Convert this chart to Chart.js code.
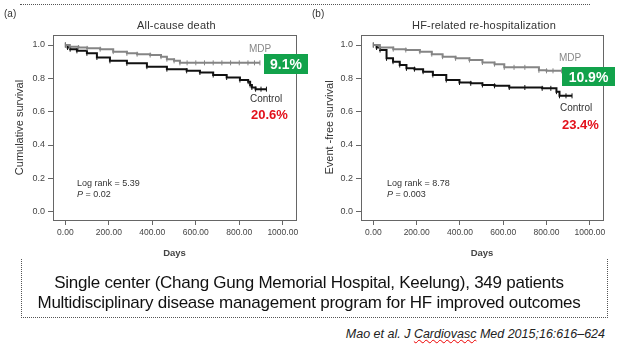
<!DOCTYPE html>
<html>
<head>
<meta charset="utf-8">
<script src="https://cdn.jsdelivr.net/npm/chart.js@4/dist/chart.umd.min.js"></script>
<style>
  html, body { margin: 0; padding: 0; background: #fff; }
  #wrap { position: relative; width: 618px; height: 348px; overflow: hidden; background: #fff;
          font-family: "Liberation Sans", Arial, sans-serif; }
  canvas { position: absolute; top: 0; }
  .t { position: absolute; white-space: nowrap; line-height: 1; }
  .green { position: absolute; background: #12a24b; color: #fff; font-weight: bold; font-size: 14px;
           display: flex; align-items: center; justify-content: center; }
  .red { color: #e3111b; font-weight: bold; font-size: 13px; }
  .panel { color: #333; font-size: 10px; }
  .title { color: #333; font-size: 11px; letter-spacing: 0.2px; }
  .grp { font-size: 10px; }
  .lr { color: #333; font-size: 9px; }
  #topline { position: absolute; left: 20px; top: 4px; width: 570px; border-top: 1px dotted #555; }
  #box { position: absolute; left: 21px; top: 259px; width: 585px; height: 58px;
         border-left: 1px dotted #555; border-right: 1px dotted #555; border-bottom: 1px dotted #555; }
  .big { position: absolute; left: 0; width: 618px; text-align: center; font-size: 17px; color: #111;
         letter-spacing: -0.25px; line-height: 1; }
  #cite { position: absolute; right: 13px; top: 327px; font-size: 12.5px; font-style: italic; color: #222; }
  #cite u { text-decoration: underline wavy #e00; text-decoration-thickness: 1px; }
</style>
</head>
<body>
<div id="wrap">
  <div id="topline"></div>
  <canvas id="ca" width="310" height="262" style="left:0px;width:310px;height:262px"></canvas>
  <canvas id="cb" width="308" height="262" style="left:310px;width:308px;height:262px"></canvas>

  <div class="t panel" style="left:4px;top:9px">(a)</div>
  <div class="t panel" style="left:312px;top:9px">(b)</div>
  <div class="t title" style="left:137px;top:20px">All-cause death</div>
  <div class="t title" style="left:412px;top:20px">HF-related re-hospitalization</div>

  <div class="t grp" style="left:249px;top:44px;color:#888">MDP</div>
  <div class="green" style="left:264px;top:54px;width:44px;height:20px">9.1%</div>
  <div class="t grp" style="left:250px;top:94px;color:#333">Control</div>
  <div class="t red" style="left:251px;top:108px">20.6%</div>
  <div class="t lr" style="left:77px;top:179px">Log rank = 5.39</div>
  <div class="t lr" style="left:77px;top:190px"><i>P</i> = 0.02</div>

  <div class="t grp" style="left:559px;top:53px;color:#888">MDP</div>
  <div class="green" style="left:562px;top:67px;width:53px;height:19px">10.9%</div>
  <div class="t grp" style="left:560px;top:103px;color:#333">Control</div>
  <div class="t red" style="left:562px;top:118px">23.4%</div>
  <div class="t lr" style="left:387px;top:179px">Log rank = 8.78</div>
  <div class="t lr" style="left:387px;top:190px"><i>P</i> = 0.003</div>

  <div id="box"></div>
  <div class="big" style="top:274px">Single center (Chang Gung Memorial Hospital, Keelung), 349 patients</div>
  <div class="big" style="top:294px">Multidisciplinary disease management program for HF improved outcomes</div>
  <div id="cite">Mao et al. J <u>Cardiovasc</u> Med 2015;16:616–624</div>
</div>
<script>
// ---- data ----
const xTickVals = [0, 200, 400, 600, 800, 1000];
const yTickVals = [0, 0.2, 0.4, 0.6, 0.8, 1.0];

// (a) All-cause death
const aMdpDays  = [0, 20, 60, 100, 160, 220, 283, 330, 390, 440, 467, 500, 527, 560, 600, 640, 680, 720, 760, 800, 840, 870, 895];
const aMdpSurv  = [1.0, 0.99, 0.985, 0.98, 0.975, 0.96, 0.95, 0.945, 0.94, 0.93, 0.915, 0.905, 0.893, 0.893, 0.893, 0.893, 0.893, 0.893, 0.893, 0.893, 0.893, 0.893, 0.893];
const aCtlDays  = [0, 10, 22, 53, 99, 145, 205, 283, 375, 467, 558, 619, 680, 742, 803, 841, 850, 858, 875, 900, 925];
const aCtlSurv  = [1.0, 0.985, 0.975, 0.965, 0.95, 0.925, 0.905, 0.89, 0.87, 0.855, 0.845, 0.835, 0.82, 0.805, 0.79, 0.78, 0.76, 0.745, 0.735, 0.735, 0.735];

// (b) HF-related re-hospitalization
const bMdpDays  = [0, 30, 92, 150, 215, 270, 320, 380, 444, 504, 560, 605, 650, 700, 765, 800, 830, 870, 900];
const bMdpSurv  = [1.0, 0.985, 0.975, 0.97, 0.96, 0.945, 0.93, 0.92, 0.91, 0.895, 0.885, 0.866, 0.866, 0.866, 0.848, 0.845, 0.845, 0.845, 0.845];
const bCtlDays  = [0, 15, 31, 61, 91, 122, 153, 190, 230, 275, 337, 398, 450, 504, 560, 628, 700, 780, 820, 846, 860, 890, 918];
const bCtlSurv  = [1.0, 0.985, 0.97, 0.92, 0.90, 0.88, 0.86, 0.855, 0.84, 0.82, 0.79, 0.775, 0.77, 0.76, 0.755, 0.745, 0.745, 0.74, 0.74, 0.72, 0.695, 0.695, 0.695];

const seriesNames = ['MDP', 'Control'];
const seriesColors = ['#858585', '#111111'];
const yTitles = ['Cumulative survival', 'Event -free survival'];
const xTitle = 'Days';

function pts(days, surv) { return days.map((d, i) => ({ x: d, y: surv[i] })); }

const boxPlugin = {
  id: 'box',
  afterDraw(chart) {
    const { ctx, chartArea: a } = chart;
    ctx.save();
    ctx.strokeStyle = '#666';
    ctx.lineWidth = 1;
    ctx.strokeRect(Math.round(a.left) + 0.5, Math.round(a.top) + 0.5,
                   Math.round(a.right - a.left), Math.round(a.bottom - a.top));
    ctx.restore();
  }
};

function makeChart(id, mdp, ctl, yTitle, padL, padR, titlePad) {
  const mk = (name, color, data, bw) => ({
    label: name, data, borderColor: color, backgroundColor: color,
    borderWidth: bw, stepped: true, fill: false,
    pointStyle: 'line', rotation: 90, pointRadius: 2.5, pointBorderWidth: 1,
    pointBorderColor: color, pointHoverRadius: 0
  });
  return new Chart(document.getElementById(id), {
    type: 'line',
    data: { datasets: [mk(seriesNames[0], seriesColors[0], mdp, 2), mk(seriesNames[1], seriesColors[1], ctl, 2)] },
    options: {
      responsive: false, animation: false, devicePixelRatio: 1,
      layout: { padding: { left: padL, right: padR, top: 35, bottom: 0 } },
      plugins: { legend: { display: false }, tooltip: { enabled: false } },
      scales: {
        x: {
          type: 'linear', min: -57, max: 1061,
          afterBuildTicks: s => { s.ticks = xTickVals.map(v => ({ value: v })); },
          afterFit: s => { s.height = 42; },
          grid: { display: true, drawOnChartArea: false, drawTicks: true, tickLength: 5, color: '#666' },
          border: { display: true, color: '#666' },
          ticks: { autoSkip: false, maxRotation: 0, padding: 3, color: '#444',
                   font: { family: 'Liberation Sans', size: 8.5 }, callback: v => Number(v).toFixed(2) },
          title: { display: true, text: xTitle, color: '#444', padding: { top: 0, bottom: 3 },
                   font: { family: 'Liberation Sans', size: 9.5, weight: 'bold' } }
        },
        y: {
          type: 'linear', min: -0.05, max: 1.06,
          afterBuildTicks: s => { s.ticks = yTickVals.map(v => ({ value: v })); },
          afterFit: s => { s.width = 45; },
          grid: { display: true, drawOnChartArea: false, drawTicks: true, tickLength: 5, color: '#666' },
          border: { display: true, color: '#666' },
          ticks: { padding: 3, color: '#444', font: { family: 'Liberation Sans', size: 9 },
                   callback: v => Number(v).toFixed(1) },
          title: { display: true, text: yTitle, color: '#333', padding: { top: titlePad, bottom: 0 },
                   font: { family: 'Liberation Sans', size: 11 } }
        }
      }
    },
    plugins: [boxPlugin]
  });
}

makeChart('ca', pts(aMdpDays, aMdpSurv), pts(aCtlDays, aCtlSurv), yTitles[0], 8, 14, 5);
makeChart('cb', pts(bMdpDays, bMdpSurv), pts(bCtlDays, bCtlSurv), yTitles[1], 6, 15, 7);
</script>
</body>
</html>
